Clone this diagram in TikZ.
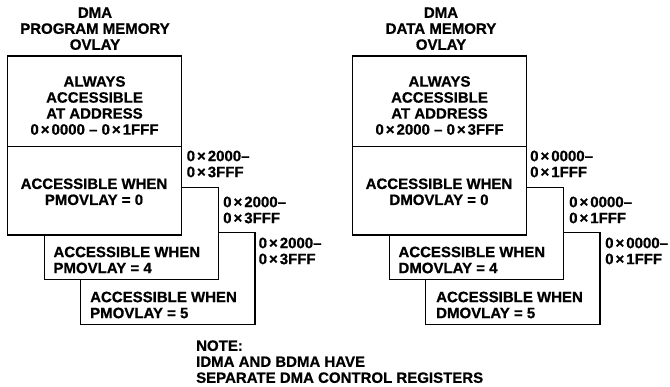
\documentclass[tikz,border=0pt]{standalone}
\usepackage{fontspec}
\setmainfont{Liberation Sans}[BoldFont={Liberation Sans Bold}]
\newfontfamily\labelfont{Liberation Sans Bold}[FakeBold=0.7]
\newcommand{\hx}{\kern2pt×\kern2pt}
\begin{document}
\begin{tikzpicture}[x=1pt,y=-1pt,
  lbl/.style={font=\labelfont\fontsize{15}{16}\selectfont,inner sep=0pt},
  ctr/.style={lbl,align=center},
  lft/.style={lbl,align=left,anchor=west},
  box/.style={draw=black,fill=white,line width=1.3pt}]
\useasboundingbox (0,0) rectangle (670,387);
% program memory overlay
\node[ctr] (pmtitle) at (95,28.7) {DMA\\PROGRAM MEMORY\\OVLAY};
\filldraw[box] (80.7,232.3) rectangle (255,324.3);
\filldraw[box] (44.3,187.5) rectangle (218.3,279.3);
\filldraw[box] (7.3,56) rectangle (181.7,235);
\draw[box] (7.3,146.7) -- (181.7,146.7);
\node[ctr] (pmalways) at (94.5,105.5) {ALWAYS\\ACCESSIBLE\\AT ADDRESS\\0\hx0000 – 0\hx1FFF};
\node[ctr] (pmzero) at (94,191.8) {ACCESSIBLE WHEN\\PMOVLAY = 0};
\node[lft] (pmfour) at (53.3,260) {ACCESSIBLE WHEN\\PMOVLAY = 4};
\node[lft] (pmfive) at (90,305) {ACCESSIBLE WHEN\\PMOVLAY = 5};
\node[lft] (pmaddrzero) at (186.5,164) {0\hx2000–\\0\hx3FFF};
\node[lft] (pmaddrfour) at (223,210) {0\hx2000–\\0\hx3FFF};
\node[lft] (pmaddrfive) at (258.5,251) {0\hx2000–\\0\hx3FFF};
% data memory overlay
\node[ctr] (dmtitle) at (441,28.7) {DMA\\DATA MEMORY\\OVLAY};
\filldraw[box] (425.7,232.3) rectangle (600,324.3);
\filldraw[box] (389.3,187.5) rectangle (563.3,279.3);
\filldraw[box] (352.3,56) rectangle (526.7,235);
\draw[box] (352.3,146.7) -- (526.7,146.7);
\node[ctr] (dmalways) at (439.5,105.5) {ALWAYS\\ACCESSIBLE\\AT ADDRESS\\0\hx2000 – 0\hx3FFF};
\node[ctr] (dmzero) at (439,191.8) {ACCESSIBLE WHEN\\DMOVLAY = 0};
\node[lft] (dmfour) at (398.3,260) {ACCESSIBLE WHEN\\DMOVLAY = 4};
\node[lft] (dmfive) at (436,305) {ACCESSIBLE WHEN\\DMOVLAY = 5};
\node[lft] (dmaddrzero) at (530,164) {0\hx0000–\\0\hx1FFF};
\node[lft] (dmaddrfour) at (569,210) {0\hx0000–\\0\hx1FFF};
\node[lft] (dmaddrfive) at (605,251) {0\hx0000–\\0\hx1FFF};
% note
\node[lft] (note) at (196,361.7) {NOTE:\\IDMA AND BDMA HAVE\\SEPARATE DMA CONTROL REGISTERS};
\end{tikzpicture}
\end{document}
